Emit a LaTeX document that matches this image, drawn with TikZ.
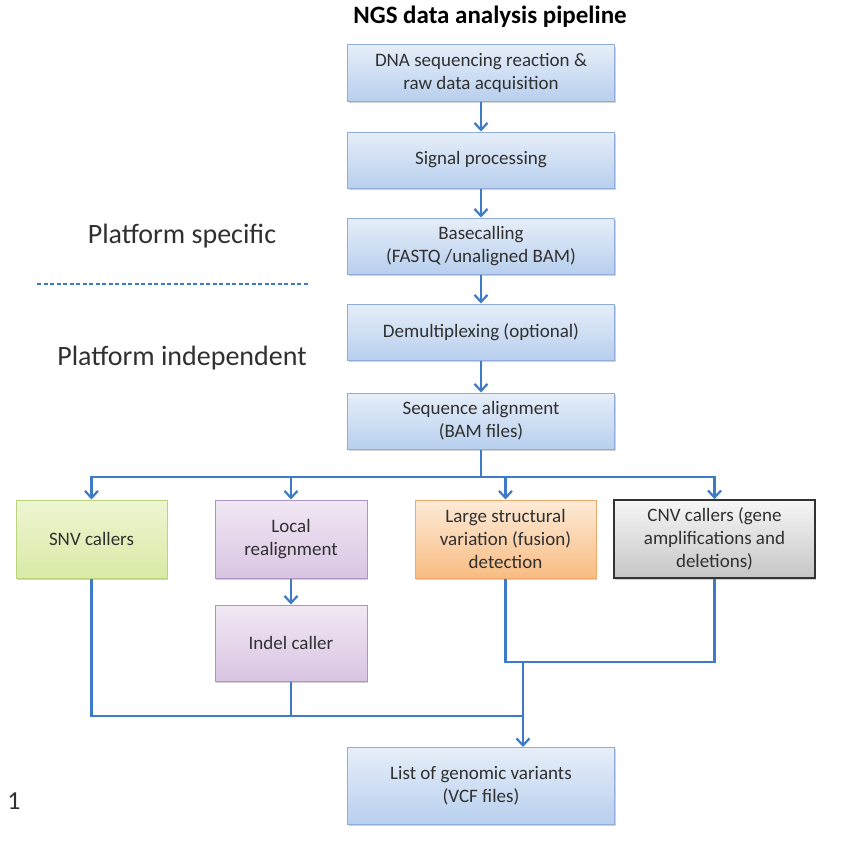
\documentclass[tikz,border=0pt]{standalone}
\usepackage{fontspec}
\setmainfont{Carlito}
\usetikzlibrary{positioning,arrows.meta,shadows}

\definecolor{flowblue}{HTML}{3E7BC6}
\definecolor{boxline}{HTML}{8FADD8}
\definecolor{boxtop}{HTML}{E6EEF9}
\definecolor{boxbottom}{HTML}{B8CFEE}
\definecolor{snvline}{HTML}{BCD37E}
\definecolor{snvtop}{HTML}{EEF5D2}
\definecolor{snvbottom}{HTML}{D9EAA6}
\definecolor{realline}{HTML}{AE93C4}
\definecolor{realtop}{HTML}{F1E8F4}
\definecolor{realbottom}{HTML}{D9C5E3}
\definecolor{svline}{HTML}{F0A868}
\definecolor{svtop}{HTML}{FDEBD8}
\definecolor{svbottom}{HTML}{F8BC82}
\definecolor{cnvtop}{HTML}{F6F6F6}
\definecolor{cnvbottom}{HTML}{C6C6C6}
\definecolor{inktext}{HTML}{303030}

\begin{document}
\begin{tikzpicture}[
  x=1pt,y=-1pt,
  every node/.style={align=center,font=\fontsize{19}{23}\selectfont,text=inktext},
  box/.style={draw=boxline,line width=1pt,top color=boxtop,bottom color=boxbottom,
    minimum width=267pt,minimum height=56pt,inner sep=2pt,
    drop shadow={shadow xshift=1.2pt,shadow yshift=-1.8pt,opacity=.35}},
  snvbox/.style={box,draw=snvline,top color=snvtop,bottom color=snvbottom},
  realbox/.style={box,draw=realline,top color=realtop,bottom color=realbottom},
  svbox/.style={box,draw=svline,top color=svtop,bottom color=svbottom},
  cnvbox/.style={box,draw=black!80,line width=1.8pt,top color=cnvtop,bottom color=cnvbottom},
  link/.style={draw=flowblue,line width=2.2pt},
  arrow/.style={link,-{Straight Barb[length=7pt,width=13pt,line width=2.2pt]}}
]
\useasboundingbox (0,0) rectangle (841,851);

% title and side labels
\node[font=\fontsize{25}{28}\selectfont\bfseries,text=black] (title) at (490,17) {NGS data analysis pipeline};
\node[font=\fontsize{28}{32}\selectfont] (specific) at (182,236) {Platform specific};
\node[font=\fontsize{28}{32}\selectfont] (independent) at (182,358) {Platform independent};
\node[font=\fontsize{26}{28}\selectfont] (panel) at (14,801) {1};
\draw[flowblue,line width=1.3pt,dash pattern=on 4pt off 2.5pt] (37,284) -- (310,284);

% platform steps
\node[box] (dna) at (481,73) {DNA sequencing reaction \&\\raw data acquisition};
\node[box] (signal) at (481,160) {Signal processing};
\node[box] (basecall) at (481,246) {Basecalling\\(FASTQ  /unaligned BAM)};
\node[box] (demux) at (481,332) {Demultiplexing (optional)};
\node[box] (align) at (481,421) {Sequence alignment\\(BAM files)};

% callers
\node[snvbox,minimum width=151pt,minimum height=78pt] (snv) at (91.5,539) {SNV callers};
\node[realbox,minimum width=152pt,minimum height=78pt] (realign) at (291,539) {Local\\realignment};
\node[svbox,minimum width=181pt,minimum height=78pt] (sv) at (505.5,539) {Large structural\\variation (fusion)\\detection};
\node[cnvbox,minimum width=201pt,minimum height=78pt] (cnv) at (714.5,539) {CNV callers (gene\\amplifications and\\deletions)};
\node[realbox,minimum width=152pt,minimum height=76pt] (indel) at (291,643) {Indel caller};
\node[box,minimum height=77pt] (vcf) at (481,786) {List of genomic variants\\(VCF files)};

% connectors
\draw[arrow] (dna) -- (signal);
\draw[arrow] (signal) -- (basecall);
\draw[arrow] (basecall) -- (demux);
\draw[arrow] (demux) -- (align);

\coordinate (split) at (481,477);
\coordinate (merge) at (523,662);
\coordinate (collect) at (523,716);
\draw[link] (align) -- (split);
\draw[arrow] (split) -| (snv.north);
\draw[arrow] (split) -| (realign.north);
\draw[arrow] (split) -| (sv.north);
\draw[arrow] (split) -| (cnv.north);
\draw[arrow] (realign) -- (indel);

\draw[link] (snv.south) |- (collect);
\draw[link] (indel.south) -- (indel.south |- collect);
\draw[link] (sv.south) |- (merge);
\draw[link] (cnv.south) |- (merge);
\draw[arrow] (merge) -- (merge |- vcf.north);
\end{tikzpicture}
\end{document}
